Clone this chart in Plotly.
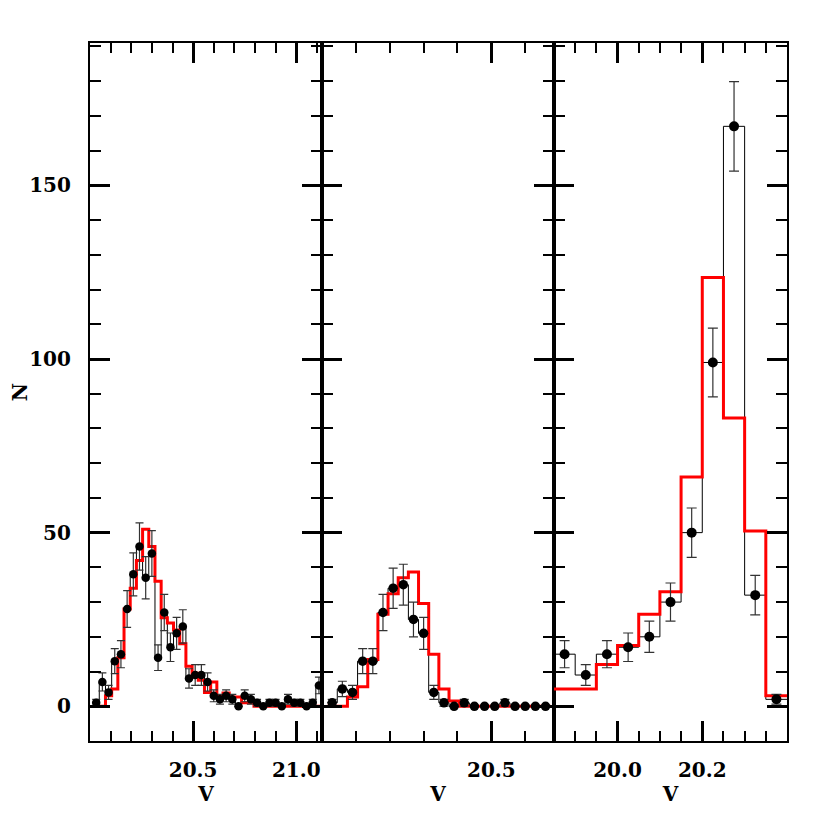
import plotly.graph_objects as go

# bin centres (mag) for the three fields
v_left = [20.03, 20.06, 20.09, 20.12, 20.15, 20.18, 20.21, 20.24, 20.27, 20.30,
          20.33, 20.36, 20.39, 20.42, 20.45, 20.48, 20.51, 20.54, 20.57, 20.60,
          20.63, 20.66, 20.69, 20.72, 20.75, 20.78, 20.81, 20.84, 20.87, 20.90,
          20.93, 20.96, 20.99, 21.02, 21.05, 21.08, 21.11]
n_left = [1, 7, 4, 13, 15, 28, 38, 46, 37, 44, 14, 27, 17, 21, 23, 8, 9, 9, 7, 3,
          2, 3, 2, 0, 3, 2, 1, 0, 1, 1, 0, 2, 1, 1, 0, 1, 6]
err_left = [1, 2.6, 2, 3.6, 3.9, 5.3, 6.2, 6.8, 6.1, 6.6, 3.7, 5.2, 4.1, 4.6, 4.8,
            2.8, 3, 3, 2.6, 1.7, 1.4, 1.7, 1.4, 0, 1.7, 1.4, 1, 0, 1, 1, 0, 1.4,
            1, 1, 0, 1, 2.4]
model_left = [0, 0, 3, 5, 14, 28, 34, 42, 51, 46, 36, 25.5, 24, 22, 18, 11.5, 9.5,
              7.5, 4, 7, 3, 3.8, 2.7, 2.7, 1, 1, 0, 0, 0, 0, 0, 0, 0, 0, 0, 0, 0]

v_mid = [20.03, 20.06, 20.09, 20.12, 20.15, 20.18, 20.21, 20.24, 20.27, 20.30,
         20.33, 20.36, 20.39, 20.42, 20.45, 20.48, 20.51, 20.54, 20.57, 20.60,
         20.63, 20.66]
n_mid = [1, 5, 4, 13, 13, 27, 34, 35, 25, 21, 4, 1, 0, 1, 0, 0, 0, 1, 0, 0, 0, 0]
err_mid = [1, 2.2, 2, 3.6, 3.6, 5.2, 5.8, 5.9, 5, 4.6, 2, 1, 0, 1, 0, 0, 0, 1, 0,
           0, 0, 0]
model_mid = [0, 0, 2.7, 5.6, 13.5, 26.5, 32.4, 37, 38.7, 29.6, 15, 5, 1.5, 0, 0, 0,
             0, 0, 0, 0, 0, 0]

v_right = [19.875, 19.925, 19.975, 20.025, 20.075, 20.125, 20.175, 20.225,
           20.275, 20.325, 20.375]
n_right = [15, 9, 15, 17, 20, 30, 50, 99, 167, 32, 2]
err_right = [3.9, 3, 3.9, 4.1, 4.5, 5.5, 7.1, 9.9, 12.9, 5.7, 1.4]
model_right = [5, 5, 12, 17.5, 26.5, 33, 66, 123.5, 83, 50.5, 3]

xticks = [[20.5, 21.0], [20.5], [20.0, 20.2]]
yticks = [0, 50, 100, 150]

panels = [
    (v_left, n_left, err_left, model_left, 0.03, [20.0, 21.125], 0.1, 8.5, 4),
    (v_mid, n_mid, err_mid, model_mid, 0.03, [20.0, 20.685], 0.1, 9.5, 4.5),
    (v_right, n_right, err_right, model_right, 0.05, [19.85, 20.40], 0.05, 10, 5),
]


def steps(centres, vals, w):
    xs = [c - w / 2 for c in centres] + [centres[-1] + w / 2]
    ys = list(vals) + [vals[-1]]
    return xs, ys


fig = go.Figure()
font = dict(family="DejaVu Serif", size=20, color="black", weight="bold")
doms = [[0, 0.3329], [0.3329, 0.6657], [0.6657, 1]]

for i, (v, n, e, m, w, rng, mdt, msz, cap) in enumerate(panels):
    xa = "x" if i == 0 else "x%d" % (i + 1)
    ya = "y" if i == 0 else "y%d" % (i + 1)
    hx, hy = steps(v, n, w)
    fig.add_trace(go.Scatter(x=hx, y=hy, mode="lines", line_shape="hv",
                             line=dict(color="black", width=1),
                             xaxis=xa, yaxis=ya, showlegend=False))
    rx, ry = steps(v, m, w)
    fig.add_trace(go.Scatter(x=rx, y=ry, mode="lines", line_shape="hv",
                             line=dict(color="#ff0000", width=3),
                             xaxis=xa, yaxis=ya, showlegend=False))
    fig.add_trace(go.Scatter(x=v, y=n, mode="markers",
                             marker=dict(color="black", size=msz),
                             error_y=dict(type="data", array=e, color="#333333",
                                          thickness=1.2, width=cap),
                             xaxis=xa, yaxis=ya, showlegend=False))

    key = "" if i == 0 else str(i + 1)
    fig.layout["xaxis" + key] = dict(
        domain=doms[i], range=rng, anchor=ya, automargin=False,
        tickmode="array", tickvals=xticks[i], tickformat=".1f",
        ticks="inside", ticklen=20, tickwidth=2.5, tickcolor="black",
        minor=dict(tick0=20.0, dtick=mdt, ticks="inside", ticklen=10,
                   tickwidth=2, tickcolor="black"),
        showline=True, linewidth=2.2, linecolor="black", mirror="ticks",
        showgrid=False, zeroline=False, tickfont=font, ticklabelstandoff=10,
        title=dict(text="V", font=font, standoff=6),
    )
    fig.layout["yaxis" + key] = dict(
        domain=[0, 1], range=[-10, 191], anchor=xa, automargin=False,
        tickmode="array", tickvals=yticks,
        ticks="inside", ticklen=20, tickwidth=2.5, tickcolor="black",
        minor=dict(tick0=0, dtick=10, ticks="inside", ticklen=11,
                   tickwidth=2, tickcolor="black"),
        showline=True, linewidth=2.2, linecolor="black", mirror="ticks",
        showgrid=False, zeroline=False, tickfont=font,
        showticklabels=(i == 0), ticklabelstandoff=13,
        title=dict(text="N" if i == 0 else "", font=font, standoff=12),
    )

# the page adds ~8px body margin, so the figure is a little smaller than 830
fig.update_layout(
    width=822, height=822,
    margin=dict(l=82, r=43, t=35, b=89),
    plot_bgcolor="white", paper_bgcolor="white",
)

fig.write_html("out.html")
